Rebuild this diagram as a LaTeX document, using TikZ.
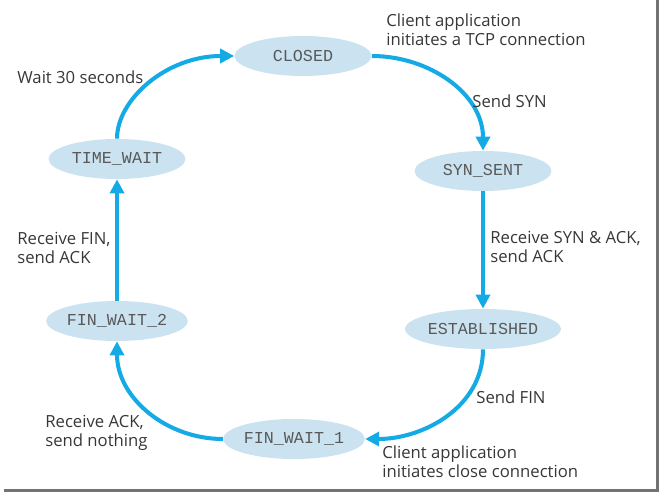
\documentclass[tikz,border=0pt]{standalone}
\usepackage{fontspec}
\setmainfont{Open Sans}
\newfontfamily\statefont{Liberation Mono}
\usetikzlibrary{arrows.meta,shapes.geometric}
\definecolor{tcpblue}{RGB}{20,170,230}
\definecolor{tcpfill}{RGB}{203,226,240}
\definecolor{tcptext}{RGB}{55,55,55}
\begin{document}
\begin{tikzpicture}[x=0.02cm, y=-0.02cm,
  tcpstate/.style={ellipse, fill=tcpfill, minimum width=2.74cm, minimum height=0.8cm,
    inner sep=0pt, text=black!65, font=\statefont\fontsize{9.5}{11}\selectfont},
  trans/.style={draw=tcpblue, line width=2.3pt, -{Triangle[length=8pt,width=8pt]}},
  lbl/.style={anchor=west, inner sep=0pt, align=left, text=tcptext,
    font=\fontsize{9.5}{11}\selectfont}]
  \useasboundingbox (0,0) rectangle (660,493);
  % frame shadow
  \draw[black!55, line width=1.6pt] (4,490.5) -- (657.5,490.5) -- (657.5,0);
  % states
  \node[tcpstate] (closed) at (303,56) {CLOSED};
  \node[tcpstate] (synsent) at (483,171) {SYN\_SENT};
  \node[tcpstate] (estab) at (483,329) {ESTABLISHED};
  \node[tcpstate] (fin1) at (294,439) {FIN\_WAIT\_1};
  \node[tcpstate] (fin2) at (117,321) {FIN\_WAIT\_2};
  \node[tcpstate] (timewait) at (117,159) {TIME\_WAIT};
  % transitions
  \draw[trans] (closed.east) to[out=0, in=90] (synsent.north);
  \draw[trans] (synsent.south) -- (estab.north);
  \draw[trans] (estab.south) to[out=-90, in=0] (fin1.east);
  \draw[trans] (fin1.west) to[out=180, in=-90] (fin2.south);
  \draw[trans] (fin2.north) -- (timewait.south);
  \draw[trans] (timewait.north) .. controls +(0,-39) and +(-68,0) .. (closed.west);
  % labels
  \node[lbl] (l1) at (386,30) {Client application\\initiates a TCP connection};
  \node[lbl] (l2) at (472,101) {Send SYN};
  \node[lbl] (l3) at (490,247) {Receive SYN \& ACK,\\send ACK};
  \node[lbl] (l4) at (476,397) {Send FIN};
  \node[lbl] (l5) at (382,462) {Client application\\initiates close connection};
  \node[lbl] (l6) at (45,433) {Receive ACK,\\send nothing};
  \node[lbl] (l7) at (17,248) {Receive FIN,\\send ACK};
  \node[lbl] (l8) at (17,77) {Wait 30 seconds};
\end{tikzpicture}
\end{document}
